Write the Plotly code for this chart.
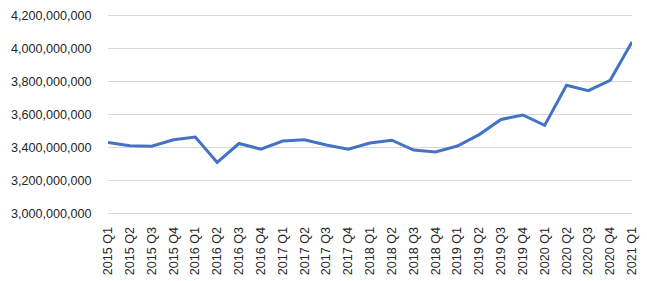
import plotly.graph_objects as go

quarters = ["2015 Q1","2015 Q2","2015 Q3","2015 Q4","2016 Q1","2016 Q2","2016 Q3","2016 Q4",
            "2017 Q1","2017 Q2","2017 Q3","2017 Q4","2018 Q1","2018 Q2","2018 Q3","2018 Q4",
            "2019 Q1","2019 Q2","2019 Q3","2019 Q4","2020 Q1","2020 Q2","2020 Q3","2020 Q4","2021 Q1"]
values = [3.430e9, 3.410e9, 3.408e9, 3.447e9, 3.463e9, 3.309e9, 3.424e9, 3.390e9,
          3.439e9, 3.446e9, 3.415e9, 3.390e9, 3.427e9, 3.444e9, 3.384e9, 3.373e9,
          3.409e9, 3.478e9, 3.570e9, 3.597e9, 3.534e9, 3.778e9, 3.745e9, 3.808e9, 4.040e9]
ytick_vals = [3.0e9, 3.2e9, 3.4e9, 3.6e9, 3.8e9, 4.0e9, 4.2e9]
ytick_text = [f"{int(v):,}" for v in ytick_vals]

fig = go.Figure(go.Scatter(x=quarters, y=values, mode="lines",
                           line=dict(color="#4472C4", width=3)))
fig.update_layout(
    width=647, height=281, margin=dict(l=108, r=15, t=14, b=66),
    paper_bgcolor="white", plot_bgcolor="white", showlegend=False,
    font=dict(family="Liberation Sans", size=12.6, color="#262626"),
)
fig.update_xaxes(type="category", tickangle=-90, showgrid=False, showline=False,
                 ticks="outside", ticklen=6, tickcolor="rgba(0,0,0,0)", automargin=False)
fig.update_yaxes(range=[2.99e9, 4.21e9], tickvals=ytick_vals, ticktext=ytick_text,
                 showgrid=True, gridcolor="#d9d9d9", gridwidth=1, zeroline=False,
                 ticks="outside", ticklen=13, tickcolor="rgba(0,0,0,0)", automargin=False)
fig.write_html("out.html")
